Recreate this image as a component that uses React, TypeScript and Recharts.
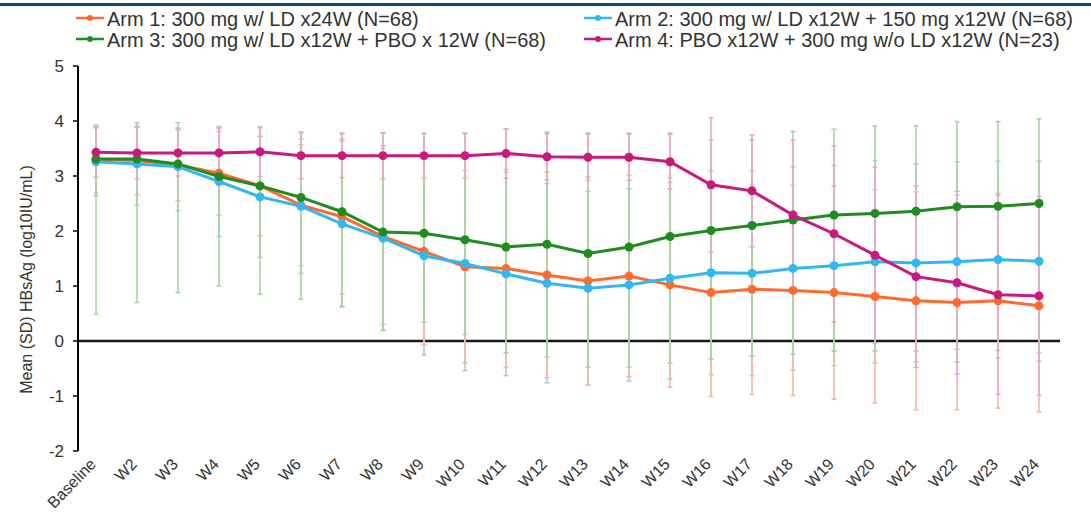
import { LineChart, Line, XAxis, YAxis, ErrorBar, ReferenceLine } from 'recharts';

const weeks = [
  'Baseline', 'W2', 'W3', 'W4', 'W5', 'W6', 'W7', 'W8', 'W9', 'W10', 'W11', 'W12',
  'W13', 'W14', 'W15', 'W16', 'W17', 'W18', 'W19', 'W20', 'W21', 'W22', 'W23', 'W24',
];

// Arm 1: 300 mg w/ LD x24W
const arm1Mean = [3.3, 3.28, 3.2, 3.05, 2.82, 2.47, 2.26, 1.9, 1.63, 1.35, 1.32, 1.2, 1.09, 1.18, 1.02, 0.88, 0.94, 0.92, 0.88, 0.81, 0.73, 0.7, 0.73, 0.64];
const arm1Sd = [0.6, 0.62, 0.65, 0.76, 0.9, 1.1, 1.41, 1.6, 1.7, 1.75, 1.8, 1.87, 1.89, 1.83, 1.86, 1.89, 1.91, 1.91, 1.94, 1.94, 1.98, 1.95, 1.95, 1.93];

// Arm 2: 300 mg w/ LD x12W + 150 mg x12W
const arm2Mean = [3.26, 3.22, 3.17, 2.9, 2.62, 2.45, 2.13, 1.87, 1.55, 1.41, 1.22, 1.05, 0.96, 1.02, 1.14, 1.24, 1.23, 1.32, 1.37, 1.44, 1.42, 1.44, 1.48, 1.45];
const arm2Sd = [0.62, 0.75, 0.8, 1.0, 1.1, 1.22, 1.5, 1.68, 1.8, 1.95, 1.85, 1.81, 1.76, 1.75, 1.83, 1.85, 1.86, 1.85, 1.82, 1.84, 1.8, 1.82, 1.79, 1.82];

// Arm 3: 300 mg w/ LD x12W + PBO x 12W (bars drawn unevenly in the source)
const arm3Mean = [3.31, 3.31, 3.22, 2.99, 2.82, 2.61, 2.35, 1.98, 1.96, 1.84, 1.71, 1.76, 1.59, 1.71, 1.9, 2.01, 2.1, 2.2, 2.29, 2.32, 2.36, 2.44, 2.45, 2.5];
const arm3SdLow = [2.82, 2.61, 2.34, 1.99, 1.97, 1.85, 1.73, 1.78, 1.61, 1.72, 1.92, 2.05, 2.07, 2.19, 2.3, 2.34, 2.37, 2.44, 2.47, 2.5, 2.54, 2.59, 2.62, 2.71];
const arm3SdHigh = [0.61, 0.59, 0.65, 0.89, 1.06, 1.19, 1.43, 1.8, 1.82, 1.94, 2.14, 2.04, 2.19, 2.07, 1.88, 1.64, 1.55, 1.61, 1.56, 1.59, 1.55, 1.55, 1.54, 1.54];

// Arm 4: PBO x12W + 300 mg w/o LD x12W
const arm4Mean = [3.43, 3.42, 3.42, 3.42, 3.44, 3.37, 3.37, 3.37, 3.37, 3.37, 3.41, 3.35, 3.34, 3.34, 3.26, 2.84, 2.73, 2.29, 1.95, 1.56, 1.17, 1.06, 0.84, 0.82];
const arm4Sd = [0.45, 0.47, 0.42, 0.45, 0.45, 0.42, 0.4, 0.42, 0.4, 0.4, 0.45, 0.42, 0.42, 0.42, 0.5, 1.22, 1.02, 1.36, 1.6, 1.6, 1.65, 1.66, 1.81, 1.81];

const yTicks = [-2, -1, 0, 1, 2, 3, 4, 5];

const arms = [
  { key: 'arm1', name: 'Arm 1: 300 mg w/ LD x24W (N=68)', color: '#FF6A2E', bar: '#F8B89C' },
  { key: 'arm2', name: 'Arm 2: 300 mg w/ LD x12W + 150 mg x12W (N=68)', color: '#33B7F2', bar: '#A9CCE0' },
  { key: 'arm3', name: 'Arm 3: 300 mg w/ LD x12W + PBO x 12W (N=68)', color: '#1F8C22', bar: '#A3D6A1' },
  { key: 'arm4', name: 'Arm 4: PBO x12W + 300 mg w/o LD x12W (N=23)', color: '#C81A7E', bar: '#EBA6CF' },
];

// error bars stacked so green and pink sit on top, as in the source
const barOrder = ['arm2', 'arm1', 'arm3', 'arm4'];

const data = weeks.map((week, i) => ({
  week,
  arm1: arm1Mean[i],
  arm1Err: arm1Sd[i],
  arm2: arm2Mean[i],
  arm2Err: arm2Sd[i],
  arm3: arm3Mean[i],
  arm3Err: [arm3SdLow[i], arm3SdHigh[i]],
  arm4: arm4Mean[i],
  arm4Err: arm4Sd[i],
}));

const font = '"Liberation Sans", Arial, sans-serif';

const XTick = ({ x, y, payload }: any) => (
  <text
    x={x + 1}
    y={y + 6}
    transform={`rotate(-46, ${x + 1}, ${y + 6})`}
    textAnchor="end"
    fontSize={16}
    fontFamily={font}
    fill="#333"
  >
    {payload.value}
  </text>
);

const legendPos = [
  { x: 76, y: 18 },
  { x: 584, y: 18 },
  { x: 76, y: 39 },
  { x: 584, y: 39 },
];

function ChartLegend() {
  return (
    <svg width={1091} height={56} style={{ position: 'absolute', left: 0, top: 0 }}>
      {arms.map((a, i) => {
        const p = legendPos[i];
        return (
          <g key={a.key}>
            <line x1={p.x} x2={p.x + 28} y1={p.y} y2={p.y} stroke={a.color} strokeWidth={2.5} />
            <circle cx={p.x + 14} cy={p.y} r={3} fill={a.color} />
            <text x={p.x + 31} y={p.y + 7.5} fontSize={20} fontFamily={font} fill="#333">
              {a.name}
            </text>
          </g>
        );
      })}
    </svg>
  );
}

export default function App() {
  return (
    <div style={{ position: 'absolute', left: 0, top: 0, width: 1091, height: 513, background: '#fff' }}>
      <div style={{ position: 'absolute', left: 0, top: 3, width: 1091, height: 3, background: '#0F4A6E' }} />
      <ChartLegend />
      <LineChart
        width={1091}
        height={513}
        data={data}
        margin={{ top: 66, right: 31, bottom: 0, left: 30 }}
      >
        <XAxis
          dataKey="week"
          interval={0}
          padding={{ left: 18, right: 21 }}
          axisLine={false}
          tickLine={false}
          height={62}
          tick={<XTick />}
        />
        <YAxis
          width={48}
          domain={[-2, 5]}
          ticks={yTicks}
          allowDataOverflow
          axisLine={{ stroke: '#000', strokeWidth: 2 }}
          tickLine={{ stroke: '#000', strokeWidth: 1.5 }}
          tickSize={5}
          tickMargin={9}
          tick={{ fontSize: 17, fontFamily: font, fill: '#333' }}
          label={{
            content: (props: any) => {
              const vb = props.viewBox;
              const cx = 26;
              const cy = vb.y + vb.height / 2 + 21;
              return (
                <text
                  x={cx}
                  y={cy}
                  transform={`rotate(-90, ${cx}, ${cy})`}
                  textAnchor="middle"
                  dominantBaseline="central"
                  fontSize={16}
                  fontFamily={font}
                  fill="#333"
                >
                  Mean (SD) HBsAg (log10IU/mL)
                </text>
              );
            },
          }}
        />
        <ReferenceLine y={0} stroke="#1a1a1a" strokeWidth={2.5} />
        {barOrder.map((k) => {
          const a = arms.find((arm) => arm.key === k)!;
          return (
            <Line
              key={`${a.key}-sd`}
              dataKey={a.key}
              stroke="none"
              dot={false}
              activeDot={false}
              legendType="none"
              isAnimationActive={false}
            >
              <ErrorBar
                dataKey={`${a.key}Err`}
                width={2.5}
                stroke={a.bar}
                strokeWidth={1.6}
                isAnimationActive={false}
              />
            </Line>
          );
        })}
        {arms.map((a) => (
          <Line
            key={a.key}
            dataKey={a.key}
            name={a.name}
            stroke={a.color}
            strokeWidth={3}
            dot={{ r: 4.5, fill: a.color, stroke: a.color, strokeWidth: 0 }}
            activeDot={false}
            isAnimationActive={false}
          />
        ))}
      </LineChart>
    </div>
  );
}
